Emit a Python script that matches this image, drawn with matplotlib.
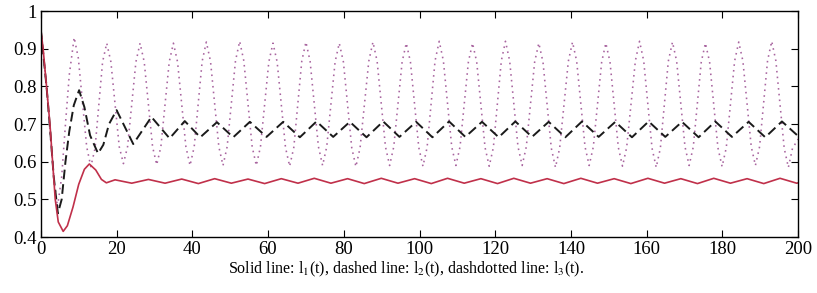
import matplotlib
matplotlib.use("Agg")
import matplotlib.pyplot as plt

plt.rcParams['font.family'] = ['Liberation Serif', 'DejaVu Serif']
plt.rcParams['mathtext.fontset'] = 'stix'

# l1(t): solid red line (start, dip, then small ripple)
t1 = [0, 0.6, 1.5, 2.4, 3.1, 3.8, 4.6, 5.9, 7.0, 8.5, 10.0, 11.5, 12.8, 14.5, 16.0, 17.3,
      19.6, 24.0, 28.4, 32.8, 37.2, 41.6, 45.9, 50.3, 54.7, 59.1, 63.5, 67.9, 72.2, 76.6,
      81.0, 85.4, 89.9, 94.3, 98.7, 103.1, 107.4, 111.8, 116.2, 120.6, 124.9, 129.3, 133.7,
      138.1, 142.6, 147.0, 151.4, 155.8, 160.3, 164.7, 169.0, 173.4, 177.7, 182.1, 186.5,
      190.9, 195.2, 199.6, 200]
l1 = [0.95, 0.90, 0.80, 0.70, 0.60, 0.50, 0.44, 0.415, 0.43, 0.48, 0.54, 0.58, 0.594, 0.578, 0.553, 0.544,
      0.552, 0.543, 0.553, 0.543, 0.554, 0.542, 0.555, 0.543, 0.554, 0.542, 0.555, 0.543, 0.556, 0.543,
      0.555, 0.542, 0.556, 0.543, 0.555, 0.542, 0.556, 0.543, 0.555, 0.542, 0.556, 0.543, 0.555,
      0.542, 0.556, 0.543, 0.555, 0.542, 0.556, 0.543, 0.555, 0.542, 0.556, 0.543, 0.555,
      0.542, 0.556, 0.543, 0.544]

# l2(t): dashed black line
t2 = [0, 1.5, 2.5, 3.4, 4.5, 5.5, 6.5, 7.5, 8.7, 10.1, 11.5, 13.0, 15.1, 16.5, 18.0, 20.0,
      24.4, 29.2, 34.0, 38.0, 42.1, 46.5, 50.8, 55.2, 59.6, 64.0, 68.4, 72.8, 77.2, 81.6,
      86.0, 90.4, 94.7, 99.1, 103.4, 107.8, 112.1, 116.5, 120.9, 125.3, 129.7, 134.1, 138.5,
      142.9, 147.3, 151.7, 156.1, 160.5, 164.9, 169.3, 173.7, 178.1, 182.5, 186.9, 191.3,
      195.7, 200]
l2 = [0.95, 0.80, 0.68, 0.56, 0.463, 0.50, 0.60, 0.68, 0.75, 0.79, 0.745, 0.67, 0.622, 0.645, 0.70, 0.737,
      0.647, 0.719, 0.662, 0.708, 0.665, 0.705, 0.665, 0.706, 0.666, 0.706, 0.665, 0.707, 0.666, 0.706,
      0.665, 0.707, 0.666, 0.706, 0.665, 0.707, 0.666, 0.706, 0.665, 0.707, 0.666, 0.706, 0.665,
      0.707, 0.666, 0.706, 0.665, 0.707, 0.666, 0.706, 0.665, 0.707, 0.666, 0.706, 0.665,
      0.707, 0.668]

# l3(t): dotted magenta line -- start, peaks/troughs, and shoulder points between them
l3_start_t = [0, 1.5, 2.5, 3.5, 4.4, 5.5, 6.5, 7.5]
l3_start_v = [0.95, 0.80, 0.67, 0.55, 0.48, 0.56, 0.70, 0.83]
l3_ext_t = [8.8, 13.2, 17.4, 21.8, 26.2, 30.6, 35.0, 39.4, 43.7, 48.1, 52.5, 56.9, 61.3, 65.7,
            70.0, 74.4, 78.8, 83.2, 87.7, 92.1, 96.5, 100.9, 105.2, 109.6, 114.0, 118.4, 122.7,
            127.1, 131.5, 135.9, 140.4, 144.8, 149.2, 153.6, 158.1, 162.5, 166.8, 171.2, 175.5,
            179.9, 184.3, 188.7, 193.0, 197.4, 200]
l3_ext_v = [0.93, 0.587, 0.915, 0.595, 0.915, 0.592, 0.915, 0.59, 0.918, 0.59, 0.92, 0.59, 0.915, 0.588,
            0.918, 0.59, 0.915, 0.587, 0.918, 0.59, 0.915, 0.588, 0.92, 0.59, 0.915, 0.588, 0.92,
            0.59, 0.915, 0.585, 0.918, 0.59, 0.915, 0.588, 0.92, 0.585, 0.918, 0.59, 0.915,
            0.587, 0.918, 0.59, 0.92, 0.585, 0.66]
l3_sh_t = [9.9, 12.1, 14.3, 16.3, 18.5, 20.7, 22.9, 25.1, 27.3, 29.5, 31.7, 33.9, 36.1, 38.3,
           40.5, 42.6, 44.8, 47.0, 49.2, 51.4, 53.6, 55.8, 58.0, 60.2, 62.4, 64.6, 66.8, 68.9,
           71.1, 73.3, 75.5, 77.7, 79.9, 82.1, 84.3, 86.6, 88.8, 91.0, 93.2, 95.4, 97.6, 99.8,
           102.0, 104.1, 106.3, 108.5, 110.7, 112.9, 115.1, 117.3, 119.5, 121.6, 123.8, 126.0,
           128.2, 130.4, 132.6, 134.8, 137.0, 139.3, 141.5, 143.7, 145.9, 148.1, 150.3, 152.5,
           154.7, 157.0, 159.2, 161.4, 163.6, 165.7, 167.9, 170.1, 172.3, 174.4, 176.6, 178.8,
           181.0, 183.2, 185.4, 187.6, 189.8, 191.9, 194.1, 196.3, 198.5]
l3_sh_v = [0.875, 0.64, 0.635, 0.865, 0.865, 0.64, 0.64, 0.865, 0.865, 0.64, 0.64, 0.865, 0.865, 0.64,
           0.64, 0.867, 0.867, 0.64, 0.64, 0.868, 0.868, 0.64, 0.64, 0.865, 0.865, 0.638, 0.638, 0.867,
           0.867, 0.64, 0.64, 0.865, 0.865, 0.637, 0.637, 0.867, 0.867, 0.64, 0.64, 0.865, 0.865, 0.638,
           0.638, 0.868, 0.868, 0.64, 0.64, 0.865, 0.865, 0.638, 0.638, 0.868, 0.868, 0.64,
           0.64, 0.865, 0.865, 0.636, 0.636, 0.867, 0.867, 0.64, 0.64, 0.865, 0.865, 0.638,
           0.638, 0.868, 0.868, 0.636, 0.636, 0.867, 0.867, 0.64, 0.64, 0.865, 0.865, 0.637,
           0.637, 0.867, 0.867, 0.64, 0.64, 0.868, 0.868, 0.636, 0.636]

xticks = [0, 20, 40, 60, 80, 100, 120, 140, 160, 180, 200]
yticks = [0.4, 0.5, 0.6, 0.7, 0.8, 0.9, 1]
ytick_labels = ['0.4', '0.5', '0.6', '0.7', '0.8', '0.9', '1']
caption = 'Solid line: l$_1$(t), dashed line: l$_2$(t), dashdotted line: l$_3$(t).'

# merge the l3 pieces into one time-ordered series
pts3 = sorted(zip(l3_start_t + l3_ext_t + l3_sh_t, l3_start_v + l3_ext_v + l3_sh_v))
t3 = [p[0] for p in pts3]
l3 = [p[1] for p in pts3]

fig = plt.figure(figsize=(8.17, 2.93), dpi=100)
ax = fig.add_axes([0.050, 0.191, 0.927, 0.771])

ax.plot(t3, l3, color='#a8649f', linestyle=(0, (1, 2.6)), linewidth=1.15)
ax.plot(t2, l2, color='#1a1a1a', linestyle=(0, (5, 2.5)), linewidth=1.4)
ax.plot(t1, l1, color='#c0304a', linestyle='-', linewidth=1.2)

ax.set_xlim(0, 200)
ax.set_ylim(0.4, 1)
ax.set_xticks(xticks)
ax.set_yticks(yticks)
ax.set_yticklabels(ytick_labels)
ax.tick_params(direction='in', length=5, top=True, right=True, labelsize=13.5, pad=3)
for s in ax.spines.values():
    s.set_linewidth(1.0)

fig.text(0.497, 0.082, caption, ha='center', va='center', fontsize=11.5)

fig.savefig('out.png', dpi=100)
